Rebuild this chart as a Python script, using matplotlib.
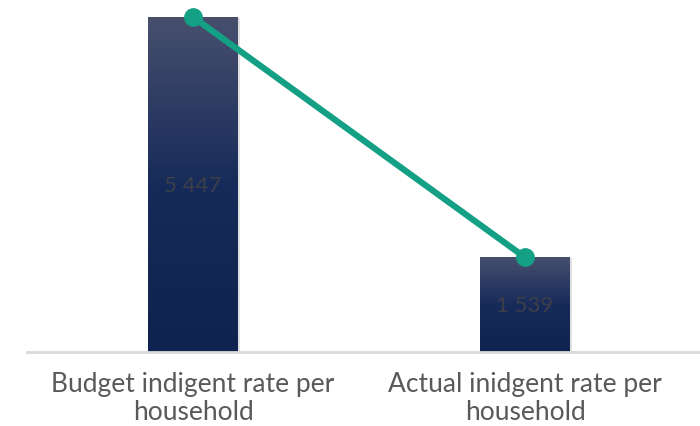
import matplotlib.pyplot as plt
import numpy as np
from matplotlib.colors import LinearSegmentedColormap

categories = ["Budget indigent rate per\nhousehold", "Actual inidgent rate per\nhousehold"]
values = [5447, 1539]
value_labels = ["5 447", "1 539"]

plt.rcParams["font.family"] = ["Lato", "DejaVu Sans"]

fig = plt.figure(figsize=(7, 4.27), dpi=100)
ax = fig.add_axes([0.0386, 0.1733, 0.9614, 0.8267])

x = np.arange(len(categories))
bar_width = 0.271
bars = ax.bar(x, values, width=bar_width, color="none", edgecolor="none", zorder=2)

# vertical gradient inside each bar
cmap = LinearSegmentedColormap.from_list(
    "navy", [(0.0, "#0f2350"), (0.5, "#172b5a"), (1.0, "#474f6d")]
)
grad = np.linspace(0, 1, 256).reshape(-1, 1)
for b in bars:
    x0, h, w = b.get_x(), b.get_height(), b.get_width()
    # soft shadow
    ax.bar(x0 + w / 2 + 0.006, h, width=w, bottom=-h * 0.004, color="#000000",
           alpha=0.12, zorder=1, edgecolor="none")
    im = ax.imshow(grad, cmap=cmap, aspect="auto", origin="lower",
                   extent=[x0, x0 + w, 0, h], zorder=2)
    im.set_clip_path(b)

for xi, v, lbl in zip(x, values, value_labels):
    ax.text(xi, v / 2, lbl, ha="center", va="center", fontsize=16, color="#3c3f48", zorder=3)

ax.plot(x, values, color="#14a085", lw=4.5, marker="o", markersize=12.5,
        solid_capstyle="round", zorder=4, clip_on=False)

ax.set_xlim(-0.5, 1.527)
ax.set_ylim(0, 5740)
ax.set_yticks([])
ax.set_xticks(x)
ax.set_xticklabels(categories, fontsize=19, color="#595959", linespacing=1.15,
                   multialignment="center")
ax.tick_params(axis="x", length=0, pad=14)
for side in ["top", "right", "left"]:
    ax.spines[side].set_visible(False)
ax.spines["bottom"].set_color("#d9d9d9")
ax.spines["bottom"].set_linewidth(2)
ax.set_facecolor("none")

fig.savefig("out.png", dpi=100)
